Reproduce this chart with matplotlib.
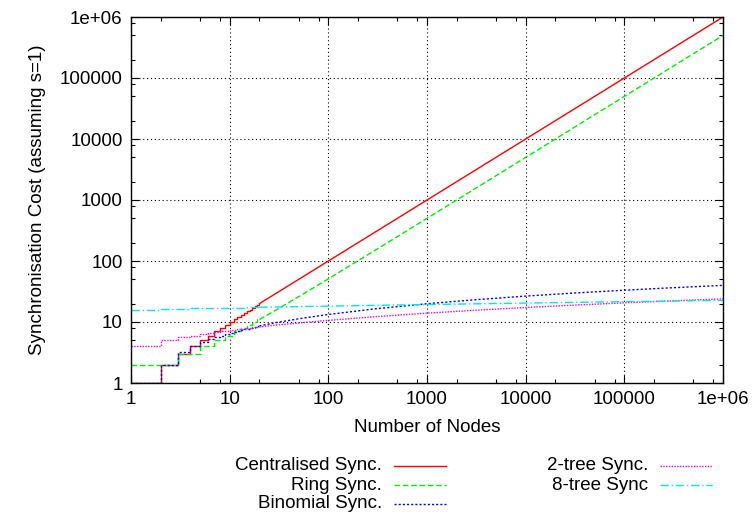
import matplotlib
matplotlib.use("Agg")
import matplotlib.pyplot as plt
from matplotlib.lines import Line2D
from matplotlib.ticker import FixedLocator, NullFormatter

plt.rcParams['font.family'] = ['Liberation Sans', 'DejaVu Sans']
FONT_SIZE = 13.5

# node counts: integers 1..20 are drawn as steps, the rest as plain lines
nodes = [1, 2, 3, 4, 5, 6, 7, 8, 9, 10, 11, 12, 13, 14, 15, 16, 17, 18, 19, 20,
         30, 50, 100, 300, 1000, 3000, 10000, 30000, 100000, 300000, 1000000]
N_STEPS = 20

centralised = [1, 2, 3, 4, 5, 6, 7, 8, 9, 10, 11, 12, 13, 14, 15, 16, 17, 18, 19, 20,
               30, 50, 100, 300, 1000, 3000, 10000, 30000, 100000, 300000, 1000000]
ring = [2, 2, 3, 3, 4, 4, 5, 5, 6, 6, 7, 7, 8, 8, 9, 9, 10, 10, 11, 11,
        16, 26, 51, 151, 501, 1501, 5001, 15001, 50001, 150001, 500001]
binomial = [1, 2, 3.17, 4, 4.64, 5.17, 5.61, 6, 6.34, 6.64, 6.92, 7.17, 7.4, 7.61,
            7.81, 8, 8.17, 8.34, 8.5, 8.64,
            9.81, 11.29, 13.29, 16.46, 19.93, 23.1, 26.58, 29.75, 33.22, 36.39, 39.86]
tree2 = [4, 5, 5.58, 6, 6.32, 6.58, 6.81, 7, 7.17, 7.32, 7.46, 7.58, 7.7, 7.81,
         7.91, 8, 8.09, 8.17, 8.25, 8.32,
         8.91, 9.64, 10.64, 12.23, 13.97, 15.55, 17.29, 18.87, 20.61, 22.19, 23.93]
tree8 = [16, 16.33, 16.53, 16.67, 16.77, 16.86, 16.94, 17, 17.06, 17.11, 17.15,
         17.19, 17.23, 17.27, 17.3, 17.33, 17.36, 17.39, 17.42, 17.44,
         17.64, 17.88, 18.21, 18.74, 19.32, 19.85, 20.43, 20.96, 21.54, 22.06, 22.64]

series = [
    ("Centralised Sync.", centralised, "#ff0000", "-"),
    ("Ring Sync.", ring, "#00ee00", (0, (4, 2))),
    ("Binomial Sync.", binomial, "#0000ff", (0, (1.5, 1.5))),
    ("2-tree Sync.", tree2, "#ff00ff", (0, (1, 1))),
    ("8-tree Sync", tree8, "#00e5ee", (0, (6, 2, 1, 2))),
]

fig = plt.figure(figsize=(7.52, 5.17), dpi=100)
W, H = 752, 517
ax = fig.add_axes([131 / W, 1 - 383 / H, (723 - 131) / W, (383 - 17) / H])

for label, vals, color, ls in series:
    ax.plot(nodes[:N_STEPS], vals[:N_STEPS], color=color, linestyle=ls,
            linewidth=1.0, drawstyle='steps-post')
    ax.plot(nodes[N_STEPS - 1:], vals[N_STEPS - 1:], color=color, linestyle=ls,
            linewidth=1.0)

ax.set_xscale('log')
ax.set_yscale('log')
ax.set_xlim(1, 1e6)
ax.set_ylim(1, 1e6)

majors = [1, 10, 100, 1000, 10000, 100000, 1000000]
major_labels = ["1", "10", "100", "1000", "10000", "100000", "1e+06"]
minors = [m * d for d in majors[:-1] for m in (2, 5, 8)]
for axis in (ax.xaxis, ax.yaxis):
    axis.set_major_locator(FixedLocator(majors))
    axis.set_minor_locator(FixedLocator(minors))
    axis.set_minor_formatter(NullFormatter())
ax.set_xticklabels(major_labels)
ax.set_yticklabels(major_labels)
ax.tick_params(which='both', direction='in', top=True, right=True,
               labelsize=FONT_SIZE, width=0.8)
ax.tick_params(which='major', length=6, pad=6)
ax.tick_params(which='minor', length=3)
ax.grid(True, which='major', color='black', linestyle=(0, (1, 2.5)), linewidth=0.8)
for sp in ax.spines.values():
    sp.set_linewidth(1.0)

ax.set_xlabel("Number of Nodes", fontsize=FONT_SIZE, labelpad=8)
ax.set_ylabel("Synchronisation Cost (assuming s=1)", fontsize=FONT_SIZE, labelpad=10)

# gnuplot-style key: right-aligned text followed by a line sample
key_cols = [(382, 394, 446), (648, 660, 712)]
key_rows = [466, 485, 504]
for i, (label, vals, color, ls) in enumerate(series):
    col, row = (0, i) if i < 3 else (1, i - 3)
    tx, x0, x1 = key_cols[col]
    y = 1 - key_rows[row] / H
    fig.text(tx / W, y, label, ha='right', va='center', fontsize=FONT_SIZE)
    fig.add_artist(Line2D([x0 / W, x1 / W], [y, y], color=color, linestyle=ls,
                          linewidth=1.0, transform=fig.transFigure))

fig.savefig("out.png", dpi=100)
